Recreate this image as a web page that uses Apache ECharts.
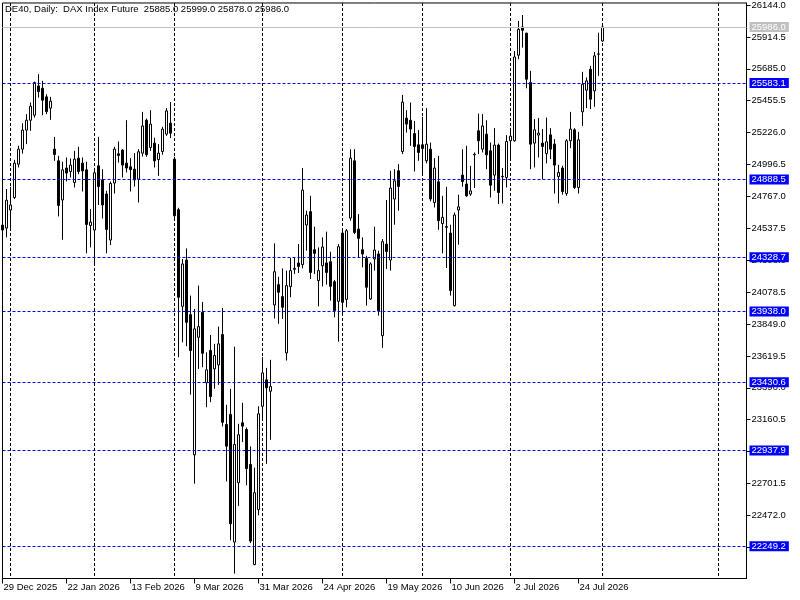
<!DOCTYPE html>
<html>
<head>
<meta charset="utf-8">
<script src="https://cdn.jsdelivr.net/npm/echarts@6/dist/echarts.min.js"></script>
<style>html,body{margin:0;padding:0;background:#fff}#c{width:800px;height:600px}</style>
</head>
<body>
<div id="c"></div>
<script>
const dates = [
'29 Dec 2025','30 Dec 2025','2 Jan 2026','5 Jan 2026','6 Jan 2026','7 Jan 2026','8 Jan 2026','9 Jan 2026','12 Jan 2026','13 Jan 2026',
'14 Jan 2026','15 Jan 2026','16 Jan 2026','19 Jan 2026','20 Jan 2026','21 Jan 2026','22 Jan 2026','23 Jan 2026','26 Jan 2026','27 Jan 2026',
'28 Jan 2026','29 Jan 2026','30 Jan 2026','2 Feb 2026','3 Feb 2026','4 Feb 2026','5 Feb 2026','6 Feb 2026','9 Feb 2026','10 Feb 2026',
'11 Feb 2026','12 Feb 2026','13 Feb 2026','16 Feb 2026','17 Feb 2026','18 Feb 2026','19 Feb 2026','20 Feb 2026','23 Feb 2026','24 Feb 2026',
'25 Feb 2026','26 Feb 2026','27 Feb 2026','2 Mar 2026','3 Mar 2026','4 Mar 2026','5 Mar 2026','6 Mar 2026','9 Mar 2026','10 Mar 2026',
'11 Mar 2026','12 Mar 2026','13 Mar 2026','16 Mar 2026','17 Mar 2026','18 Mar 2026','19 Mar 2026','20 Mar 2026','23 Mar 2026','24 Mar 2026',
'25 Mar 2026','26 Mar 2026','27 Mar 2026','30 Mar 2026','31 Mar 2026','1 Apr 2026','2 Apr 2026','7 Apr 2026','8 Apr 2026','9 Apr 2026',
'10 Apr 2026','13 Apr 2026','14 Apr 2026','15 Apr 2026','16 Apr 2026','17 Apr 2026','20 Apr 2026','21 Apr 2026','22 Apr 2026','23 Apr 2026',
'24 Apr 2026','27 Apr 2026','28 Apr 2026','29 Apr 2026','30 Apr 2026','4 May 2026','5 May 2026','6 May 2026','7 May 2026','8 May 2026',
'11 May 2026','12 May 2026','13 May 2026','14 May 2026','15 May 2026','18 May 2026','19 May 2026','20 May 2026','21 May 2026','22 May 2026',
'25 May 2026','26 May 2026','27 May 2026','28 May 2026','29 May 2026','1 Jun 2026','2 Jun 2026','3 Jun 2026','4 Jun 2026','5 Jun 2026',
'8 Jun 2026','9 Jun 2026','10 Jun 2026','11 Jun 2026','12 Jun 2026','15 Jun 2026','16 Jun 2026','17 Jun 2026','18 Jun 2026','19 Jun 2026',
'22 Jun 2026','23 Jun 2026','24 Jun 2026','25 Jun 2026','26 Jun 2026','29 Jun 2026','30 Jun 2026','1 Jul 2026','2 Jul 2026','3 Jul 2026',
'6 Jul 2026','7 Jul 2026','8 Jul 2026','9 Jul 2026','10 Jul 2026','13 Jul 2026','14 Jul 2026','15 Jul 2026','16 Jul 2026','17 Jul 2026',
'20 Jul 2026','21 Jul 2026','22 Jul 2026','23 Jul 2026','24 Jul 2026','27 Jul 2026','28 Jul 2026','29 Jul 2026','30 Jul 2026','31 Jul 2026',
'3 Aug 2026'];

const opens = [24560,24539,24669,24759,24999,25107,25244,25315,25351,25562,
25545,25483,25402,25107,25023,24741,24971,24946,24867,25042,
25006,24958,24558,24525,24987,24886,24784,24453,24863,25073,
25100,25006,24980,24963,24891,25078,25315,25119,25150,25032,
25090,25215,25294,25035,24671,23976,24309,23916,22908,23753,
23933,23426,23658,23526,23555,23773,23126,23198,22280,22707,
23138,23090,22838,22118,22513,23257,23447,23365,23986,24132,
24046,23641,24118,24242,24288,24276,24561,24657,24383,24161,
24268,24288,24297,24153,24012,24503,24026,24611,25023,24532,
24383,24321,24029,24317,24353,23765,24424,24309,24748,24951,
25090,25330,25315,25219,25138,25138,25023,25107,24723,24872,
24572,24544,24503,23981,24669,24920,24856,24784,25066,25239,
25107,25215,25095,24920,25136,24908,24903,25167,25167,25783,
25986,25941,25586,25150,25208,25150,25075,25210,25143,24910,
24971,24788,25167,25246,24831,25375,25531,25682,25526,25790,
25885];

const closes = [24525,24740,24705,25006,25107,25244,25315,25416,25586,25521,
25459,25377,25452,25068,24702,24958,24935,24992,25035,24946,
24951,24565,24582,24937,24838,24705,24529,24860,25107,25061,
24992,24971,24960,24886,25088,25274,25068,25287,25023,25078,
25251,25382,25222,24628,24041,24281,23861,23658,23814,23830,
23638,23519,23327,23622,23706,23142,22970,22412,22982,23052,
23114,22808,22287,22635,23203,23497,23390,23399,24225,24077,
23969,24125,24233,24249,24263,24812,24633,24220,24357,24233,
24403,24220,24120,23945,24405,24005,24520,25042,24508,24465,
24353,24113,24281,24381,23945,24441,24371,24827,24879,24838,
25445,25287,25251,25126,25083,25111,25143,24748,24971,24592,
24616,24551,24089,24633,24692,24874,24771,24807,25070,25167,
25274,25066,24848,25136,24795,24912,25162,25200,25770,25969,
25962,25610,25143,25246,25222,25126,25160,25107,24992,24939,
24802,25167,25251,24831,25174,25574,25598,25466,25778,25792,
25986];

const lows = [24500,24472,24520,24748,24975,25075,25143,25239,25334,25478,
25351,25359,25318,25023,24623,24455,24874,24903,24831,24927,
24802,24357,24400,24281,24705,24608,24357,24417,24788,25011,
24903,24939,24802,24838,24723,25054,25052,25095,24975,24915,
25066,25203,25186,24599,23610,23717,23689,23341,22700,23526,
23538,23250,23286,23382,23411,23112,22716,22292,22053,22539,
22999,22688,22273,22113,22472,23167,22843,23016,23888,23850,
23885,23586,24041,24209,24216,24249,24376,24173,24209,23976,
24120,24132,24017,23897,23722,23921,23969,24592,24496,24328,
24256,23981,24022,24233,23909,23677,24245,24233,24563,24664,
25071,25226,25131,24946,25023,24922,25004,24731,24687,24527,
24357,24252,24053,23974,24419,24836,24764,24771,24827,25071,
25083,24963,24759,24807,24712,24716,24831,25023,25160,25754,
25837,25545,24963,24975,25047,24891,25004,25035,24788,24716,
24779,24771,25114,24820,24788,25274,25402,25395,25411,25634,
25878];

const highs = [24575,24820,24836,25030,25131,25294,25359,25442,25593,25646,
25598,25502,25483,25195,25059,25016,25047,25040,25095,25124,
25047,25016,24676,24951,25195,24963,24807,24874,25124,25162,
25107,25315,25042,25078,25107,25375,25327,25387,25190,25143,
25267,25402,25445,25052,24685,24317,24393,24053,23957,24125,
24008,23645,23770,23706,23830,23964,23267,23382,23686,23131,
23282,23104,22968,22815,23257,23610,23533,23591,24429,24189,
24249,24233,24324,24328,24424,24971,24664,24771,24549,24400,
24472,24513,24369,24166,24424,24520,24532,25107,25107,24640,
24472,24340,24292,24549,24376,24460,24741,24951,24963,24999,
25497,25387,25442,25310,25244,25339,25402,25154,25042,25059,
24771,24836,24563,24651,24779,25107,25131,24987,25083,25363,
25359,25315,25154,25258,25147,24971,25208,25251,25813,26029,
26072,25945,25670,25323,25330,25251,25334,25258,25179,24994,
24987,25179,25375,25258,25231,25663,25622,25706,25806,25945,
25999];

const priceTicks = [26144.0,25914.5,25685.0,25455.5,25226.0,24996.5,24767.0,24537.5,24308.0,
24078.5,23849.0,23619.5,23390.0,23160.5,22931.0,22701.5,22472.0,22242.5];
const levelLines = [25583.1,24888.5,24328.7,23938.0,23430.6,22937.9,22249.2];
const bidPrice = 25986.0;
const gridBarIndex = [2,23,43,65,85,105,127,150,179];
const titleText = 'DE40, Daily:  DAX Index Future  25885.0 25999.0 25878.0 25986.0';

const emptySlots = 36;
const categories = dates.concat(Array.from({length: emptySlots}, (_, i) => 'next' + (i + 1)));
const candles = opens.map((o, i) => [o, closes[i], lows[i], highs[i]]);

const FONT = 'Liberation Sans';
const FS = 9.5;
const labelFn = (idx) => idx % 16 === 0 && idx < dates.length;

const markData = levelLines.map(v => ({
  yAxis: v,
  lineStyle: {color: '#0000ff', type: [3, 2], width: 1},
  label: {
    show: true, position: 'end', distance: 3,
    formatter: v.toFixed(1),
    color: '#fff', backgroundColor: '#0000ff',
    fontFamily: FONT, fontSize: FS, lineHeight: 9, padding: [1, 3, 0, 2]
  }
}));
markData.unshift({
  yAxis: bidPrice,
  lineStyle: {color: '#c0c0c0', type: 'solid', width: 1},
  label: {
    show: true, position: 'end', distance: 3,
    formatter: bidPrice.toFixed(1),
    color: '#fff', backgroundColor: '#c0c0c0',
    fontFamily: FONT, fontSize: FS, lineHeight: 9, padding: [1, 3, 0, 2]
  }
});

const chart = echarts.init(document.getElementById('c'), null, {renderer: 'canvas'});
chart.setOption({
  animation: false,
  backgroundColor: '#ffffff',
  title: {
    text: titleText, left: 5, top: 4, padding: 0,
    textStyle: {fontFamily: FONT, fontSize: FS, fontWeight: 'normal', color: '#000'}
  },
  grid: {
    left: 2.5, top: 1.5, width: 744, height: 577,
    show: true, borderColor: '#000', borderWidth: 1, backgroundColor: 'transparent'
  },
  xAxis: {
    type: 'category', data: categories, boundaryGap: false,
    axisLine: {show: true, lineStyle: {color: '#000', width: 1}},
    axisTick: {show: true, interval: labelFn, length: 5, lineStyle: {color: '#000'}},
    axisLabel: {
      show: true, interval: labelFn, align: 'left', margin: 4,
      fontFamily: FONT, fontSize: FS, color: '#000', padding: [0, 0, 0, 1]
    },
    splitLine: {
      show: true, interval: (idx) => gridBarIndex.indexOf(idx) >= 0,
      lineStyle: {color: '#000', type: [3, 2], width: 1}
    }
  },
  yAxis: {
    type: 'value', position: 'right', min: 22017.8, max: 26158.4,
    axisLine: {show: true, lineStyle: {color: '#000', width: 1}},
    axisTick: {show: true, customValues: priceTicks, length: 4, lineStyle: {color: '#000'}},
    axisLabel: {
      show: true, customValues: priceTicks, margin: 5,
      formatter: (v) => Number(v).toFixed(1),
      fontFamily: FONT, fontSize: FS, color: '#000'
    },
    splitLine: {show: false}
  },
  series: [{
    type: 'candlestick',
    data: candles,
    barWidth: 2,
    itemStyle: {
      color: '#ffffff', color0: '#000000',
      borderColor: '#000000', borderColor0: '#000000', borderColorDoji: '#000000',
      borderWidth: 1
    },
    markLine: {
      silent: true, symbol: 'none', animation: false,
      data: markData
    }
  }]
});
</script>
</body>
</html>
